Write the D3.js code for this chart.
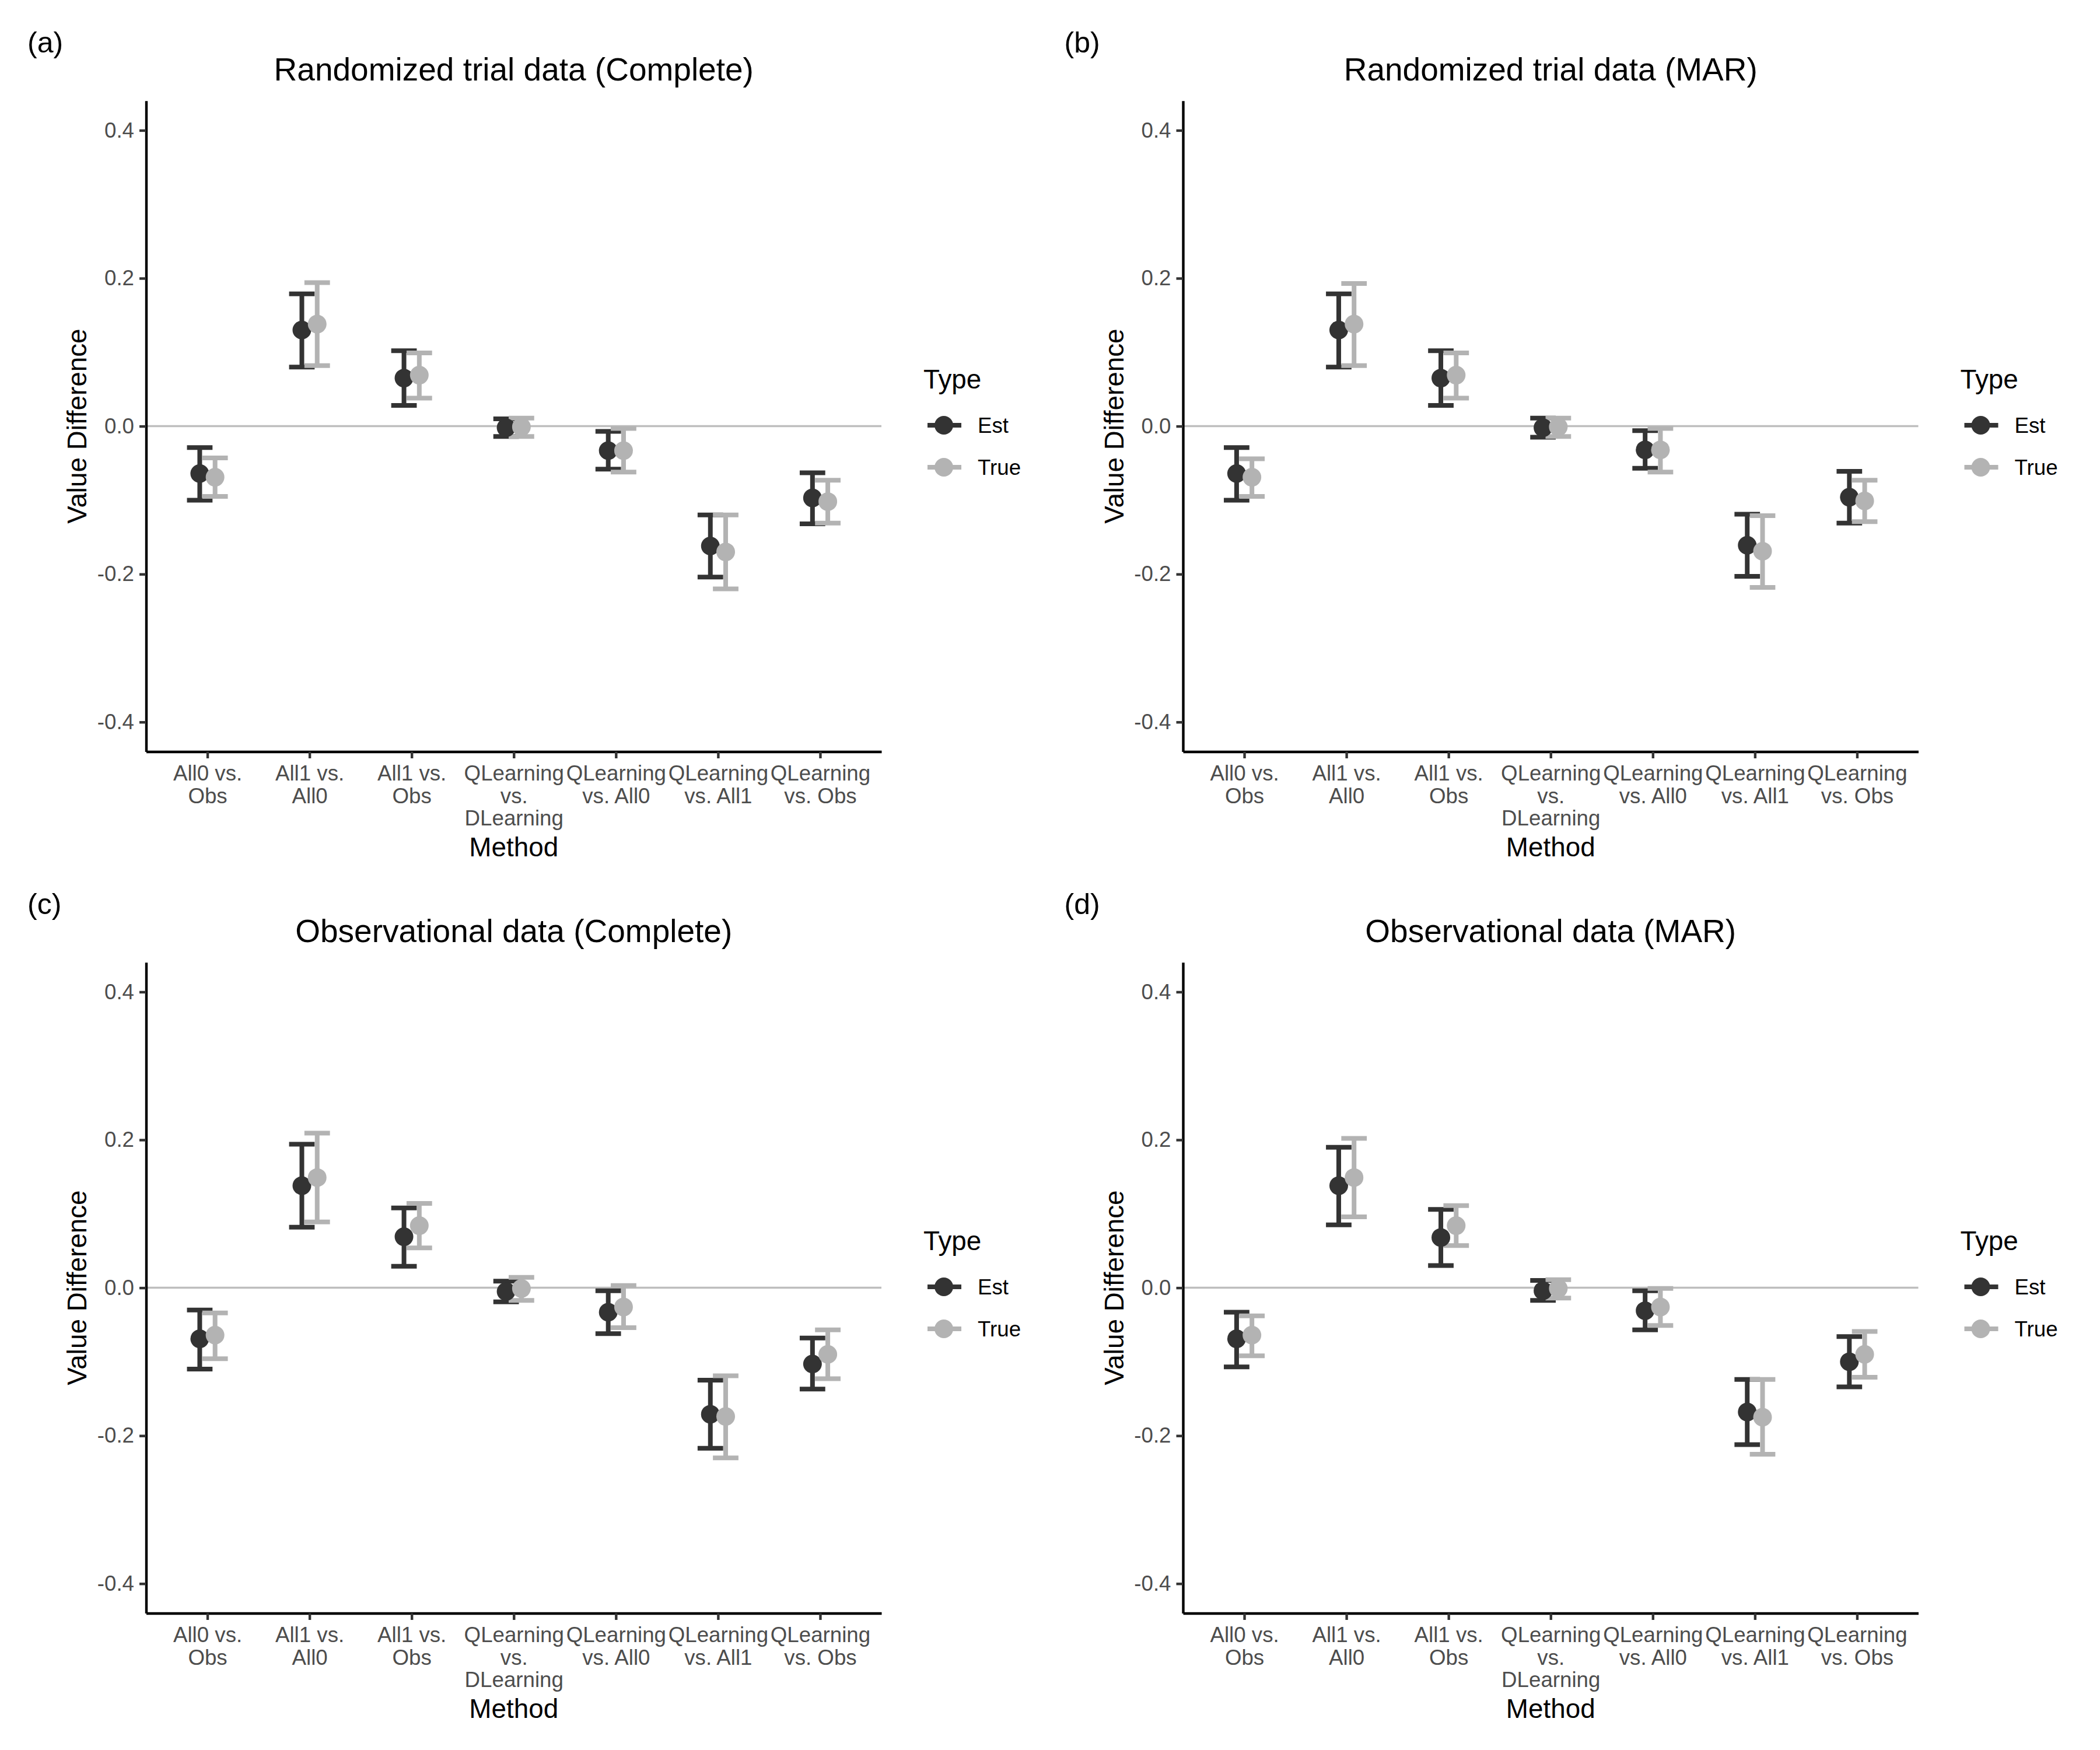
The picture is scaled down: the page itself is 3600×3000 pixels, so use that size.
<!DOCTYPE html>
<html>
<head>
<meta charset="utf-8">
<script src="https://cdn.jsdelivr.net/npm/d3@7"></script>
<style>
  body { margin: 0; background: #fff; }
</style>
</head>
<body>
<div id="chart"></div>
<script>
// categories on the x axis (line breaks as in the picture)
var methods = ["All0 vs.\nObs", "All1 vs.\nAll0", "All1 vs.\nObs", "QLearning\nvs.\nDLearning",
  "QLearning\nvs. All0", "QLearning\nvs. All1", "QLearning\nvs. Obs"];
var types = ["Est", "True"];
var panelTags = ["(a)", "(b)", "(c)", "(d)"];
var panelTitles = ["Randomized trial data (Complete)", "Randomized trial data (MAR)",
  "Observational data (Complete)", "Observational data (MAR)"];
var yTicks = [-0.4, -0.2, 0.0, 0.2, 0.4];

// [lower, estimate, upper] per method
var estRctComplete = [[-0.100, -0.064, -0.029], [0.080, 0.130, 0.179], [0.028, 0.065, 0.102], [-0.014, -0.002, 0.010],
  [-0.058, -0.033, -0.007], [-0.204, -0.162, -0.120], [-0.132, -0.097, -0.063]];
var trueRctComplete = [[-0.095, -0.069, -0.043], [0.082, 0.138, 0.194], [0.038, 0.069, 0.099], [-0.014, -0.001, 0.011],
  [-0.062, -0.033, -0.003], [-0.220, -0.170, -0.120], [-0.131, -0.102, -0.073]];
var estRctMar = [[-0.100, -0.064, -0.029], [0.080, 0.130, 0.179], [0.028, 0.065, 0.102], [-0.015, -0.002, 0.011],
  [-0.057, -0.032, -0.006], [-0.203, -0.161, -0.119], [-0.131, -0.096, -0.061]];
var trueRctMar = [[-0.095, -0.069, -0.044], [0.082, 0.138, 0.193], [0.038, 0.069, 0.099], [-0.014, -0.001, 0.011],
  [-0.062, -0.032, -0.003], [-0.218, -0.169, -0.121], [-0.129, -0.101, -0.073]];
var estObsComplete = [[-0.110, -0.069, -0.030], [0.082, 0.138, 0.194], [0.029, 0.069, 0.108], [-0.019, -0.005, 0.009],
  [-0.062, -0.033, -0.004], [-0.217, -0.171, -0.125], [-0.137, -0.103, -0.068]];
var trueObsComplete = [[-0.096, -0.064, -0.034], [0.089, 0.149, 0.209], [0.054, 0.084, 0.114], [-0.017, -0.001, 0.014],
  [-0.054, -0.026, 0.003], [-0.230, -0.174, -0.119], [-0.123, -0.090, -0.057]];
var estObsMar = [[-0.107, -0.069, -0.033], [0.085, 0.138, 0.190], [0.030, 0.068, 0.106], [-0.017, -0.004, 0.010],
  [-0.057, -0.031, -0.004], [-0.212, -0.168, -0.124], [-0.134, -0.100, -0.066]];
var trueObsMar = [[-0.092, -0.064, -0.038], [0.096, 0.149, 0.202], [0.057, 0.084, 0.111], [-0.014, -0.001, 0.011],
  [-0.051, -0.026, -0.001], [-0.225, -0.175, -0.124], [-0.121, -0.090, -0.059]];

var panelData = [
  [estRctComplete, trueRctComplete],
  [estRctMar, trueRctMar],
  [estObsComplete, trueObsComplete],
  [estObsMar, trueObsMar]
];

var colors = { Est: "#333333", True: "#B3B3B3" };

var W = 3600, H = 3000;
var font = "'Liberation Sans', Arial, Helvetica, sans-serif";

var svg = d3.select("#chart").append("svg")
  .attr("width", W).attr("height", H)
  .style("font-family", font);
svg.append("rect").attr("width", W).attr("height", H).attr("fill", "#fff");

var fmt = function(d) { return d3.format(".1f")(d).replace("\u2212", "-"); };

// panel box (for panel a, others are shifted)
var pLeft = 250.5, pRight = 1511, pTop = 172.7, pBottom = 1288.5;

panelData.forEach(function(pd, i) {
  var ox = (i % 2) * 1777.5;
  var oy = Math.floor(i / 2) * 1477;
  var g = svg.append("g").attr("transform", "translate(" + ox + "," + oy + ")");

  var x = d3.scalePoint().domain(methods).range([pLeft, pRight]).padding(0.6);
  var y = d3.scaleLinear().domain([-0.44, 0.44]).range([pBottom, pTop]);
  var step = x.step();
  var dodge = 0.075 * step;
  var capHalf = 0.125 * step;

  // tag and title
  g.append("text").attr("x", 47).attr("y", 90)
    .attr("font-size", 50).attr("fill", "#000").text(panelTags[i]);
  g.append("text").attr("x", (pLeft + pRight) / 2).attr("y", 138)
    .attr("text-anchor", "middle").attr("font-size", 55).attr("fill", "#000")
    .text(panelTitles[i]);

  // zero reference line
  g.append("line")
    .attr("x1", pLeft).attr("x2", pRight)
    .attr("y1", y(0)).attr("y2", y(0))
    .attr("stroke", "#BEBEBE").attr("stroke-width", 3.5);

  // errorbars
  types.forEach(function(t, k) {
    var off = k === 0 ? -dodge : dodge;
    var eb = g.append("g").attr("stroke", colors[t]).attr("stroke-width", 8);
    pd[k].forEach(function(v, j) {
      var cx = x(methods[j]) + off;
      eb.append("line").attr("x1", cx).attr("x2", cx).attr("y1", y(v[0])).attr("y2", y(v[2]));
      eb.append("line").attr("x1", cx - capHalf).attr("x2", cx + capHalf).attr("y1", y(v[0])).attr("y2", y(v[0]));
      eb.append("line").attr("x1", cx - capHalf).attr("x2", cx + capHalf).attr("y1", y(v[2])).attr("y2", y(v[2]));
    });
  });

  // points
  types.forEach(function(t, k) {
    var off = k === 0 ? -dodge : dodge;
    g.append("g").selectAll("circle").data(pd[k]).join("circle")
      .attr("cx", function(d, j) { return x(methods[j]) + off; })
      .attr("cy", function(d) { return y(d[1]); })
      .attr("r", 16)
      .attr("fill", colors[t]);
  });

  // axes
  var yAxis = g.append("g").attr("transform", "translate(" + pLeft + ",0)")
    .call(d3.axisLeft(y).tickValues(yTicks).tickFormat(fmt).tickSizeInner(11.5).tickSizeOuter(0).tickPadding(9));
  var xAxis = g.append("g").attr("transform", "translate(0," + pBottom + ")")
    .call(d3.axisBottom(x).tickSizeInner(11.5).tickSizeOuter(0).tickPadding(9));

  [yAxis, xAxis].forEach(function(a) {
    a.attr("font-family", font);
    a.select(".domain").attr("stroke", "#000").attr("stroke-width", 4.4);
    a.selectAll(".tick line").attr("stroke", "#333333").attr("stroke-width", 4.4);
    a.selectAll(".tick text").attr("fill", "#4D4D4D").attr("font-size", 36.7);
  });

  xAxis.selectAll(".tick text").each(function(d) {
    var txt = d3.select(this);
    txt.text(null).attr("y", null).attr("dy", null);
    d.split("\n").forEach(function(line, n) {
      txt.append("tspan").attr("x", 0).attr("y", 49.5 + n * 38.5).text(line);
    });
  });

  // axis titles
  g.append("text").attr("x", (pLeft + pRight) / 2).attr("y", 1468)
    .attr("text-anchor", "middle").attr("font-size", 45.8).attr("fill", "#000").text("Method");
  g.append("text").attr("transform", "translate(148," + ((pTop + pBottom) / 2) + ") rotate(-90)")
    .attr("text-anchor", "middle").attr("font-size", 45.8).attr("fill", "#000").text("Value Difference");

  // legend
  var lg = g.append("g").attr("transform", "translate(1583,0)");
  lg.append("text").attr("x", 0).attr("y", 666).attr("font-size", 45.8).attr("fill", "#000").text("Type");
  types.forEach(function(t, k) {
    var ky = 729 + k * 72;
    lg.append("line").attr("x1", 7).attr("x2", 65).attr("y1", ky).attr("y2", ky)
      .attr("stroke", colors[t]).attr("stroke-width", 8);
    lg.append("circle").attr("cx", 35).attr("cy", ky).attr("r", 16).attr("fill", colors[t]);
    lg.append("text").attr("x", 93).attr("y", ky + 13).attr("font-size", 36.7).attr("fill", "#000").text(t);
  });
});
</script>
</body>
</html>
